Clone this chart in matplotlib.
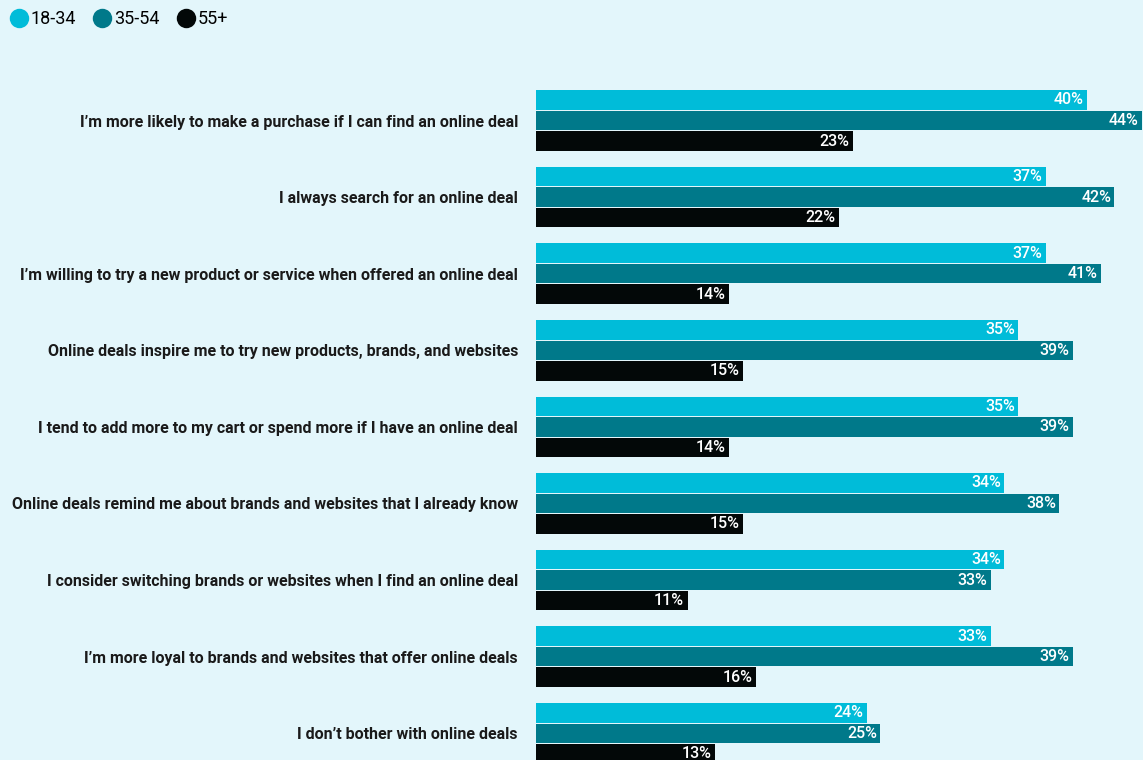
import matplotlib.pyplot as plt
from matplotlib.lines import Line2D
import numpy as np

statements = [
    "I\u2019m more likely to make a purchase if I can find an online deal",
    "I always search for an online deal",
    "I\u2019m willing to try a new product or service when offered an online deal",
    "Online deals inspire me to try new products, brands, and websites",
    "I tend to add more to my cart or spend more if I have an online deal",
    "Online deals remind me about brands and websites that I already know",
    "I consider switching brands or websites when I find an online deal",
    "I\u2019m more loyal to brands and websites that offer online deals",
    "I don\u2019t bother with online deals",
]
age_groups = ["18-34", "35-54", "55+"]
age_18_34 = [40, 37, 37, 35, 35, 34, 34, 33, 24]
age_35_54 = [44, 42, 41, 39, 39, 38, 33, 39, 25]
age_55_plus = [23, 22, 14, 15, 14, 15, 11, 16, 13]

colors = ["#00BCD9", "#00798A", "#030808"]
bg = "#E3F6FB"

W, H = 1143, 760
fig = plt.figure(figsize=(W / 100, H / 100), dpi=100, facecolor=bg)
ax = fig.add_axes([536 / W, 0, 1 - 536 / W, 1])
ax.set_facecolor(bg)

pitch = 76.6
offset = 20.5 / pitch
height = 19.5 / pitch
y = np.arange(len(statements))

series = [age_18_34, age_35_54, age_55_plus]
for k, (vals, col) in enumerate(zip(series, colors)):
    pos = y + (k - 1) * offset
    bars = ax.barh(pos, vals, height=height, color=col, linewidth=0)
    for b, v in zip(bars, vals):
        ax.text(v - 0.25, b.get_y() + b.get_height() / 2, f"{v}%",
                ha="right", va="center", color="white", fontsize=11.5,
                family="Roboto", fontweight="medium")

top = 120.5
ax.set_xlim(0, 44.07)
ax.set_ylim((H - top) / pitch, -top / pitch)
ax.set_yticks(y)
ax.set_yticklabels(statements, fontsize=11.55, fontweight="bold",
                   family="Roboto", color="#1a1a1a")
ax.tick_params(axis="y", length=0, pad=13)
ax.set_xticks([])
for s in ax.spines.values():
    s.set_visible(False)

handles = [Line2D([], [], marker="o", linestyle="none", markersize=14,
                  markerfacecolor=c, markeredgewidth=0) for c in colors]
fig.legend(handles, age_groups, loc="upper left", bbox_to_anchor=(0.0, 1.0),
           ncol=3, frameon=False, handletextpad=0.15, columnspacing=0.95,
           handlelength=1.0, borderaxespad=0.15,
           prop={"family": "Roboto", "size": 13})

fig.savefig("out.png", dpi=100, facecolor=bg)
